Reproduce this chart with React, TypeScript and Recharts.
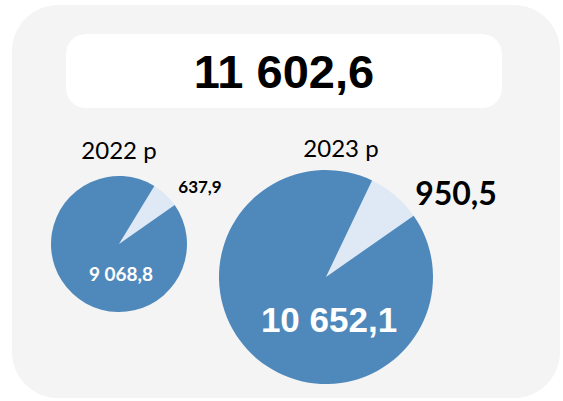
import React from 'react';
import { PieChart, Pie, Cell } from 'recharts';

const total = '11 602,6';
const years = ['2022 p', '2023 p'];
const smallValues = [637.9, 950.5];
const bigValues = [9068.8, 10652.1];
const smallLabels = ['637,9', '950,5'];
const bigLabels = ['9 068,8', '10 652,1'];

const BLUE = '#4f89bc';
const LIGHT = '#dee9f5';

const pies = [
  { cx: 119, cy: 244, r: 68, bigSize: 19, smallSize: 17, smallDx: 81, smallDy: -58, bigDy: 29, bigDx: 2,
    smallFont: 'Lato', bigFont: 'Lato', yearX: 119, yearY: 150 },
  { cx: 326, cy: 277, r: 107, bigSize: 35, smallSize: 32, smallDx: 130, smallDy: -85, bigDy: 42, bigDx: 3,
    smallFont: 'Lato', bigFont: '"Liberation Sans", Arial', yearX: 341, yearY: 148 },
];

const App: React.FC = () => {
  const makeLabel = (i: number) => (props: any) => {
    const p = pies[i];
    const { cx, cy, index } = props;
    if (index === 0) {
      return (
        <text x={cx + p.smallDx} y={cy + p.smallDy} textAnchor="middle" dominantBaseline="central"
          fontFamily={p.smallFont} fontWeight={700} fontSize={p.smallSize} fill="#000">
          {smallLabels[i]}
        </text>
      );
    }
    return (
      <text x={cx + p.bigDx} y={cy + p.bigDy} textAnchor="middle" dominantBaseline="central"
        fontFamily={p.bigFont} fontWeight={700} fontSize={p.bigSize} fill="#fff">
        {bigLabels[i]}
      </text>
    );
  };

  return (
    <div style={{ position: 'absolute', left: 0, top: 0, width: 563, height: 401, background: '#fff', overflow: 'hidden' }}>
      <div style={{ position: 'absolute', left: 12, top: 5, width: 548, height: 393, background: '#f4f4f4', borderRadius: 46 }} />
      <div style={{
        position: 'absolute', left: 66, top: 34, width: 436, height: 74, background: '#fff', borderRadius: 20,
        display: 'flex', alignItems: 'center', justifyContent: 'center',
        fontFamily: '"Liberation Sans", Arial', fontWeight: 700, fontSize: 47, color: '#000',
      }}>
        {total}
      </div>
      {years.map((y, i) => (
        <div key={y} style={{
          position: 'absolute', left: pies[i].yearX - 60, top: pies[i].yearY - 15, width: 120,
          textAlign: 'center', fontFamily: 'Lato', fontSize: 24, color: '#000', lineHeight: '30px',
        }}>
          {y}
        </div>
      ))}
      <div style={{ position: 'absolute', left: 0, top: 0 }}>
        <PieChart width={563} height={401} margin={{ top: 0, right: 0, bottom: 0, left: 0 }}>
          {pies.map((p, i) => {
            const data = [
              { name: 'small', value: smallValues[i] },
              { name: 'big', value: bigValues[i] },
            ];
            return (
              <Pie
                key={i}
                data={data}
                dataKey="value"
                cx={p.cx}
                cy={p.cy}
                innerRadius={0}
                outerRadius={p.r}
                startAngle={35}
                endAngle={395}
                stroke="none"
                label={makeLabel(i)}
                labelLine={false}
                isAnimationActive={false}
              >
                <Cell fill={LIGHT} />
                <Cell fill={BLUE} />
              </Pie>
            );
          })}
        </PieChart>
      </div>
    </div>
  );
};

export default App;
